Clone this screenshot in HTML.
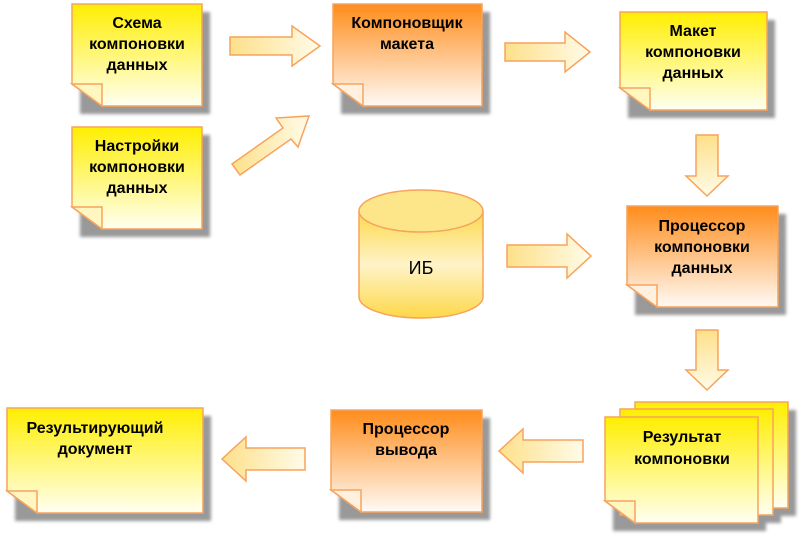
<!DOCTYPE html>
<html><head><meta charset="utf-8"><style>
html,body{margin:0;padding:0;background:#fff;}
svg{display:block;}
text{font-family:"Liberation Sans",sans-serif;font-weight:bold;font-size:16px;fill:#000;text-anchor:middle;}
</style></head><body>
<svg width="800" height="536" viewBox="0 0 800 536" xmlns="http://www.w3.org/2000/svg">
<defs>
<linearGradient id="y" x1="0" y1="0" x2="0" y2="1"><stop offset="0" stop-color="#ffee00"/><stop offset="1" stop-color="#fffff2"/></linearGradient>
<linearGradient id="o" x1="0" y1="0" x2="0" y2="1"><stop offset="0" stop-color="#ff8c1a"/><stop offset="1" stop-color="#fffaf5"/></linearGradient>
<linearGradient id="a" x1="0" y1="0" x2="0" y2="1"><stop offset="0" stop-color="#fde08a"/><stop offset="1" stop-color="#fffbe8"/></linearGradient>
<linearGradient id="ah" x1="0" y1="0" x2="1" y2="0"><stop offset="0" stop-color="#fde08a"/><stop offset="1" stop-color="#fffbe8"/></linearGradient>
<linearGradient id="c" x1="0" y1="0" x2="0" y2="1"><stop offset="0" stop-color="#fdd84a"/><stop offset="0.5" stop-color="#fff3c8"/><stop offset="1" stop-color="#fdd84a"/></linearGradient>
<filter id="b"><feGaussianBlur stdDeviation="1.5"/></filter>
</defs>
<g stroke="#f7a35c" stroke-width="1.5">
<!-- arrows -->
<path d="M230,37 H292 V26 L320,46 L292,66 V55 H230 Z" fill="url(#ah)"/>
<path d="M232,164 L283,128 L276,118 L309,116 L298,147 L291,139 L240,175 Z" fill="url(#ah)"/>
<path d="M505,43 H565 V32 L590,52 L565,72 V61 H505 Z" fill="url(#ah)"/>
<path d="M696,135 H718 V176 H728 L707,196 L686,176 H696 Z" fill="url(#a)"/>
<path d="M507,245 H567 V234 L591,256 L567,278 V267 H507 Z" fill="url(#ah)"/>
<path d="M696,330 H718 V370 H728 L707,390 L686,370 H696 Z" fill="url(#a)"/>
<path d="M583,440 H523 V429 L499,451 L523,473 V462 H583 Z" fill="url(#ah)"/>
<path d="M305,448 H246 V437 L222,459 L246,481 V470 H305 Z" fill="url(#ah)"/>
</g>
<!-- shadows -->
<g fill="#777" filter="url(#b)" opacity="0.75">
<rect x="80" y="12" width="130" height="102"/>
<rect x="80" y="135" width="130" height="102"/>
<rect x="341" y="12" width="149" height="102"/>
<rect x="628" y="20" width="147" height="98"/>
<rect x="635" y="214" width="151" height="101"/>
<rect x="15" y="416" width="196" height="105"/>
<rect x="339" y="418" width="151" height="102"/>
<rect x="643" y="410" width="153" height="106"/>
<rect x="628" y="417" width="153" height="106"/>
<rect x="613" y="425" width="153" height="106"/>
</g>
<g stroke="#f7a35c" stroke-width="1.5">
<path d="M72,4 H202 V106 H102 L72,84 Z" fill="url(#y)"/><path d="M72,84 H102 V106 Z" fill="#fff6c0"/>
<path d="M72,127 H202 V229 H102 L72,207 Z" fill="url(#y)"/><path d="M72,207 H102 V229 Z" fill="#fff6c0"/>
<path d="M333,4 H482 V106 H363 L333,84 Z" fill="url(#o)"/><path d="M333,84 H363 V106 Z" fill="#fff0e0"/>
<path d="M620,12 H767 V110 H650 L620,88 Z" fill="url(#y)"/><path d="M620,88 H650 V110 Z" fill="#fff6c0"/>
<path d="M627,206 H778 V307 H657 L627,285 Z" fill="url(#o)"/><path d="M627,285 H657 V307 Z" fill="#fff0e0"/>
<path d="M7,408 H203 V513 H37 L7,491 Z" fill="url(#y)"/><path d="M7,491 H37 V513 Z" fill="#fff6c0"/>
<path d="M331,410 H482 V512 H361 L331,490 Z" fill="url(#o)"/><path d="M331,490 H361 V512 Z" fill="#fff0e0"/>
<rect x="635" y="402" width="153" height="106" fill="url(#y)"/>
<rect x="620" y="409" width="153" height="106" fill="url(#y)"/>
<path d="M605,417 H758 V523 H635 L605,501 Z" fill="url(#y)"/><path d="M605,501 H635 V523 Z" fill="#fff6c0"/>
<!-- cylinder -->
<path d="M359,211 V297 A62,21 0 0 0 483,297 V211 Z" fill="url(#c)"/>
<ellipse cx="421" cy="211" rx="62" ry="21" fill="#fde68a"/>
</g>
<text x="137" y="28">Схема</text><text x="137" y="49">компоновки</text><text x="137" y="70">данных</text>
<text x="137" y="151">Настройки</text><text x="137" y="172">компоновки</text><text x="137" y="193">данных</text>
<text x="407" y="28">Компоновщик</text><text x="407" y="49">макета</text>
<text x="693" y="36">Макет</text><text x="693" y="57">компоновки</text><text x="693" y="78">данных</text>
<text x="702" y="231">Процессор</text><text x="702" y="252">компоновки</text><text x="702" y="273">данных</text>
<text x="95" y="433">Результирующий</text><text x="95" y="454">документ</text>
<text x="406" y="434">Процессор</text><text x="406" y="455">вывода</text>
<text x="682" y="442">Результат</text><text x="682" y="464">компоновки</text>
<text x="421" y="274" style="font-weight:normal;font-size:18px">ИБ</text>
</svg>
</body></html>
